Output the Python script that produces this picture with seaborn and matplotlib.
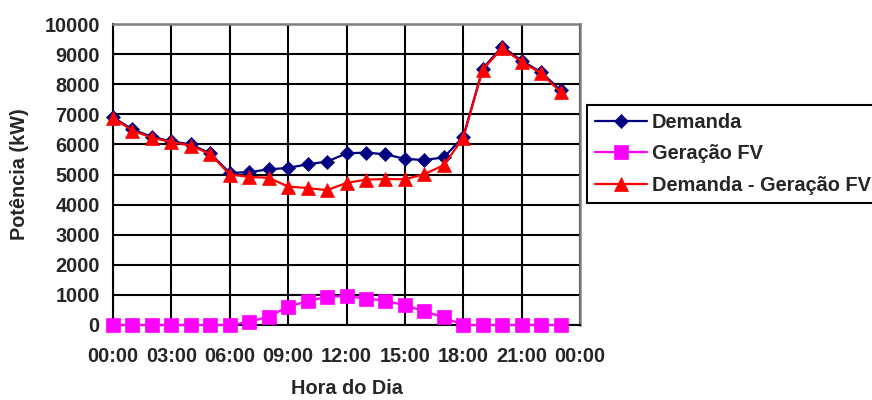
import matplotlib
matplotlib.use("Agg")
import matplotlib.pyplot as plt
import seaborn as sns

# Hourly load profile (kW)
horas = list(range(24))
demanda = [6900, 6500, 6250, 6100, 6000, 5700, 5050, 5080, 5170, 5220, 5340, 5430,
           5700, 5730, 5670, 5520, 5480, 5570, 6250, 8520, 9250, 8780, 8400, 7800]
geracao_fv = [0, 0, 0, 0, 0, 0, 0, 100, 280, 610, 790, 940,
              960, 880, 810, 650, 460, 250, 0, 0, 0, 0, 0, 0]
demanda_liquida = [6880, 6460, 6220, 6080, 5960, 5680, 5000, 4920, 4890, 4600, 4550, 4480,
                   4720, 4830, 4850, 4840, 5010, 5310, 6220, 8480, 9200, 8740, 8370, 7740]

x_ticks = [0, 3, 6, 9, 12, 15, 18, 21, 24]
x_labels = ["00:00", "03:00", "06:00", "09:00", "12:00", "15:00", "18:00", "21:00", "00:00"]
y_ticks = list(range(0, 10001, 1000))

sns.set_style("white")
plt.rcParams["font.family"] = ["Liberation Sans", "DejaVu Sans"]
plt.rcParams["font.weight"] = "bold"

fig = plt.figure(figsize=(8.72, 4.0), dpi=100)
ax = fig.add_axes([113 / 872, 75 / 400, 467 / 872, 301 / 400])

series = [
    ("Demanda", demanda, "#000080", "D", 7.2),
    ("Geração FV", geracao_fv, "#FF00FF", "s", 9.5),
    ("Demanda - Geração FV", demanda_liquida, "#FF0000", "^", 9.5),
]
for nome, valores, cor, marcador, ms in series:
    sns.lineplot(x=horas, y=valores, ax=ax, color=cor, marker=marcador,
                 markersize=ms, markeredgecolor=cor, markeredgewidth=0.5,
                 linewidth=1.6, label=nome, zorder=3, clip_on=False)

ax.set_xlim(0, 24)
ax.set_ylim(0, 10000)
ax.set_xticks(x_ticks)
ax.set_xticklabels(x_labels)
ax.set_yticks(y_ticks)

ax.grid(True, color="black", linewidth=1.5, zorder=0)
ax.set_axisbelow(True)

for lado in ("left", "bottom"):
    ax.spines[lado].set_color("black")
    ax.spines[lado].set_linewidth(1.5)
for lado in ("top", "right"):
    ax.spines[lado].set_color("#808080")
    ax.spines[lado].set_linewidth(1.8)

ax.tick_params(axis="both", direction="inout", length=9, width=1.5,
               color="black", labelsize=14.3)
ax.tick_params(axis="x", pad=11)
ax.tick_params(axis="y", pad=5)
for t in ax.get_xticklabels() + ax.get_yticklabels():
    t.set_fontweight("bold")

ax.set_xlabel("Hora do Dia", fontsize=14.3, fontweight="bold", labelpad=10)
ax.set_ylabel("Potência (kW)", fontsize=14.3, fontweight="bold", labelpad=11)

ax.get_legend().remove()
handles, labels = ax.get_legend_handles_labels()
leg = fig.legend(handles, labels, loc="upper left",
                 bbox_to_anchor=(587 / 872, 1 - 105 / 400),
                 bbox_transform=fig.transFigure, borderaxespad=0,
                 frameon=True, fancybox=False, shadow=False,
                 edgecolor="black", framealpha=1,
                 prop={"size": 14.4, "weight": "bold"},
                 handlelength=2.6, handletextpad=0.25,
                 labelspacing=0.62, borderpad=0.4)
leg.get_frame().set_linewidth(1.5)

fig.savefig("out.png", dpi=100)
